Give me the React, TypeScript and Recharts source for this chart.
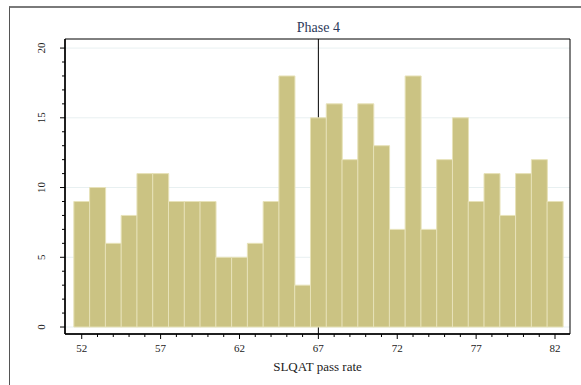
import { Bar, BarChart, CartesianGrid, ReferenceArea, ReferenceLine, XAxis, YAxis } from 'recharts';

// SLQAT pass rate histogram (frequency per score)
const passRates = [52, 53, 54, 55, 56, 57, 58, 59, 60, 61, 62, 63, 64, 65, 66, 67, 68, 69, 70, 71, 72, 73, 74, 75, 76, 77, 78, 79, 80, 81, 82];
const counts = [9, 10, 6, 8, 11, 11, 9, 9, 9, 5, 5, 6, 9, 18, 3, 15, 16, 12, 16, 13, 7, 18, 7, 12, 15, 9, 11, 8, 11, 12, 9];

const xTicks = passRates;
const xLabels = [52, 57, 62, 67, 72, 77, 82];
const yTicks = [0, 1, 2, 3, 4, 5, 6, 7, 8, 9, 10, 11, 12, 13, 14, 15, 16, 17, 18, 19, 20];
const yLabels = [0, 5, 10, 15, 20];
const gridValues = [0, 5, 10, 15, 20];

const phaseAt = 67;
const phaseLabel = 'Phase 4';
const xTitle = 'SLQAT pass rate';

const data = passRates.map((rate, i) => ({ rate, count: counts[i] }));

const font = '"Liberation Serif", "DejaVu Serif", serif';

function XTick(props: any) {
  const { x, y, payload } = props;
  const major = xLabels.includes(payload.value);
  return (
    <g>
      <line x1={x} x2={x} y1={y} y2={y + (major ? 5 : 3)} stroke="#000" strokeWidth={1} />
      {major && (
        <text x={x} y={y + 18} textAnchor="middle" fontSize={11} fill="#222" fontFamily={font}>
          {payload.value}
        </text>
      )}
    </g>
  );
}

function YTick(props: any) {
  const { x, y, payload } = props;
  const major = yLabels.includes(payload.value);
  return (
    <g>
      <line x1={x - (major ? 5 : 3)} x2={x} y1={y} y2={y} stroke="#000" strokeWidth={1} />
      {major && (
        <text
          x={x - 20}
          y={y}
          textAnchor="middle"
          fontSize={11}
          fill="#222"
          fontFamily={font}
          transform={`rotate(-90, ${x - 20}, ${y})`}
        >
          {payload.value}
        </text>
      )}
    </g>
  );
}

function PhaseLabel(props: any) {
  const { viewBox } = props;
  return (
    <text x={viewBox.x} y={viewBox.y - 7} textAnchor="middle" fontSize={14} fill="#2d3a5a" fontFamily={font}>
      {phaseLabel}
    </text>
  );
}

export default function App() {
  return (
    <div style={{ position: 'absolute', top: 0, left: 0, width: 581, height: 385, background: '#fff' }}>
      <div
        style={{
          position: 'absolute',
          left: 9,
          top: 6,
          width: 572,
          height: 379,
          borderTop: '2px solid #7a7a7a',
          borderLeft: '1px solid #555',
          boxSizing: 'border-box',
        }}
      />
      <BarChart
        width={581}
        height={385}
        data={data}
        margin={{ top: 39, right: 11, bottom: 0, left: 0 }}
        barCategoryGap={0}
        style={{ position: 'absolute', top: 0, left: 0, fontFamily: font }}
      >
        <CartesianGrid vertical={false} horizontalValues={gridValues} stroke="#e8f0f1" strokeWidth={1} />
        <XAxis
          dataKey="rate"
          type="number"
          domain={[50.94, 82.95]}
          ticks={xTicks}
          interval={0}
          allowDataOverflow
          height={51}
          tickSize={0}
          tickMargin={0}
          tickLine={false}
          axisLine={{ stroke: '#000', strokeWidth: 1.5 }}
          tick={<XTick />}
          label={{ value: xTitle, position: 'insideBottom', offset: 14, fontSize: 13, fill: '#222', fontFamily: font }}
        />
        <YAxis
          type="number"
          domain={[-0.5, 20.65]}
          ticks={yTicks}
          interval={0}
          allowDataOverflow
          width={65}
          tickSize={0}
          tickMargin={0}
          tickLine={false}
          axisLine={{ stroke: '#000', strokeWidth: 1.5 }}
          tick={<YTick />}
        />
        <ReferenceLine x={phaseAt} stroke="#000" strokeWidth={1} zIndex={250} label={<PhaseLabel />} />
        <Bar dataKey="count" fill="#cbc383" stroke="#e7e2b9" strokeWidth={1} isAnimationActive={false} />
        <ReferenceArea x1={50.94} x2={82.95} y1={-0.5} y2={20.65} fill="none" stroke="#000" strokeWidth={1} ifOverflow="extendDomain" />
      </BarChart>
    </div>
  );
}
